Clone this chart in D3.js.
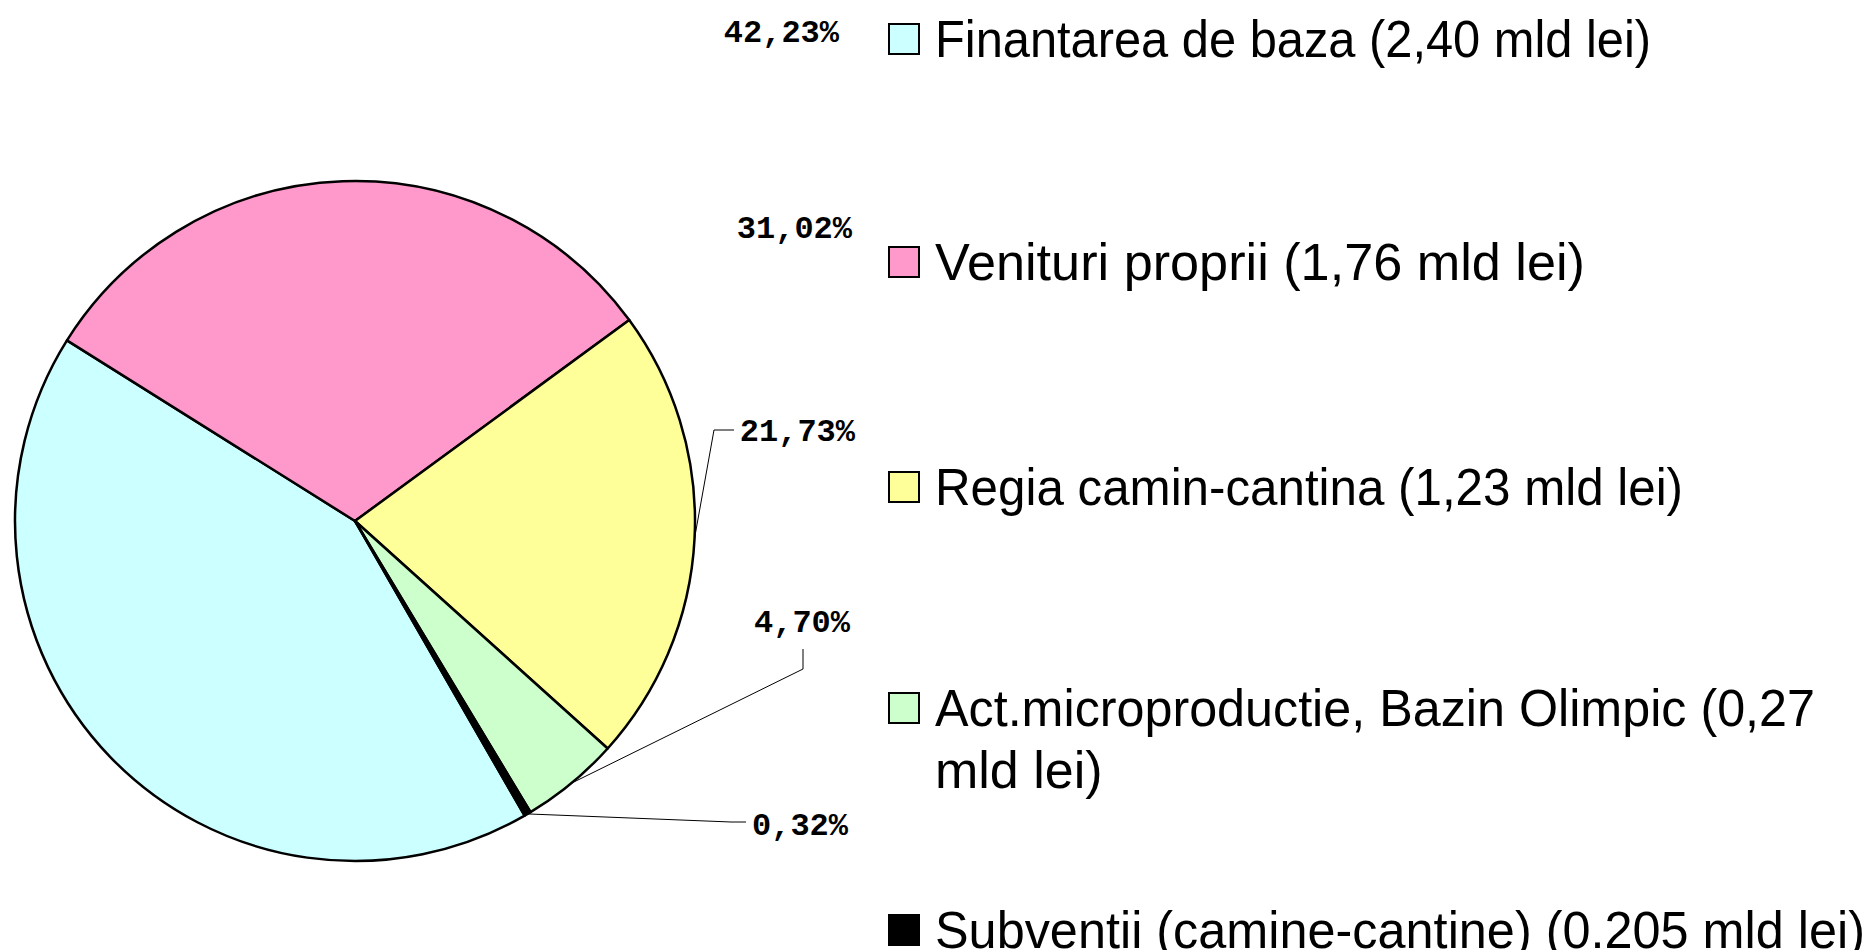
<!DOCTYPE html>
<meta charset="utf-8">
<script src="https://d3js.org/d3.v7.min.js"></script>
<style>
  body { margin: 0; background: #fff; }
  .pct { font-family: "Liberation Mono", "Courier New", monospace; font-weight: bold; font-size: 32px; }
  .leg { font-family: "Liberation Sans", Arial, sans-serif; font-size: 52px; }
</style>
<body></body>
<script>

// data
var categories = [
  "Finantarea de baza (2,40 mld lei)",
  "Venituri proprii (1,76 mld lei)",
  "Regia camin-cantina (1,23 mld lei)",
  "Act.microproductie, Bazin Olimpic (0,27|mld lei)",
  "Subventii (camine-cantine) (0.205 mld lei)"
];
var shares = [42.23, 31.02, 21.73, 4.70, 0.32];
var colors = ["#ccffff", "#ff99cc", "#ffff99", "#ccffcc", "#000000"];

// layout
var width = 1872, height = 950;
var cx = 355, cy = 521, r = 340;
var labelPos = [[839, 31], [852, 227], [855, 430], [850, 621], [848, 824]];
var legendY = [39, 262, 487, 708, 930];
var legendWidth = [716, 650, 748, 880, 930];

var svg = d3.select("body").append("svg")
    .attr("width", width)
    .attr("height", height);

var pie = d3.pie()
    .sort(null)
    .value(d => d)
    .startAngle(150.07 * Math.PI / 180)
    .endAngle(150.07 * Math.PI / 180 + 2 * Math.PI);

var arcs = pie(shares);

var arc = d3.arc().innerRadius(0).outerRadius(r);
var edge = d3.arc().innerRadius(r).outerRadius(r);

var g = svg.append("g").attr("transform", `translate(${cx},${cy})`);

g.selectAll("path.slice")
  .data(arcs)
  .enter().append("path")
    .attr("class", "slice")
    .attr("d", arc)
    .attr("fill", (d, i) => colors[i])
    .attr("stroke", "#000")
    .attr("stroke-width", 2.5)
    .attr("stroke-linejoin", "round");

// leader lines for the three small/right slices
var fmt = d3.format(".2f");
function leader(i) {
  var p = edge.centroid(arcs[i]);
  var sx = p[0] + cx, sy = p[1] + cy;
  var lx = labelPos[i][0], ly = labelPos[i][1];
  if (i === 2) return [[sx, sy], [714, ly], [lx - 121, ly]];
  if (i === 3) return [[sx, sy], [803, ly + 48], [803, ly + 28]];
  if (i === 4) return [[sx, sy], [731, ly - 2], [lx - 102, ly - 2]];
  return null;
}
var line = d3.line();
shares.forEach(function(v, i) {
  var pts = leader(i);
  if (pts) svg.append("path")
    .attr("d", line(pts))
    .attr("fill", "none")
    .attr("stroke", "#000")
    .attr("stroke-width", 1);
});

svg.selectAll("text.pct")
  .data(shares)
  .enter().append("text")
    .attr("class", "pct")
    .attr("x", (d, i) => labelPos[i][0])
    .attr("y", (d, i) => labelPos[i][1])
    .attr("dy", "0.35em")
    .attr("text-anchor", "end")
    .text(d => fmt(d).replace(".", ",") + "%");

// legend
var leg = svg.selectAll("g.legend")
  .data(categories)
  .enter().append("g")
    .attr("class", "legend")
    .attr("transform", (d, i) => `translate(889,${legendY[i]})`);

leg.append("rect")
    .attr("x", 0)
    .attr("y", -15)
    .attr("width", 30)
    .attr("height", 30)
    .attr("fill", (d, i) => colors[i])
    .attr("stroke", "#000")
    .attr("stroke-width", 2);

leg.each(function(d, i) {
  var parts = d.split("|");
  var sel = d3.select(this);
  parts.forEach(function(p, j) {
    var t = sel.append("text")
      .attr("class", "leg")
      .attr("x", 46)
      .attr("y", 18 + j * 62)
      .text(p);
    if (j === 0) t.attr("textLength", legendWidth[i]).attr("lengthAdjust", "spacingAndGlyphs");
  });
});

</script>
